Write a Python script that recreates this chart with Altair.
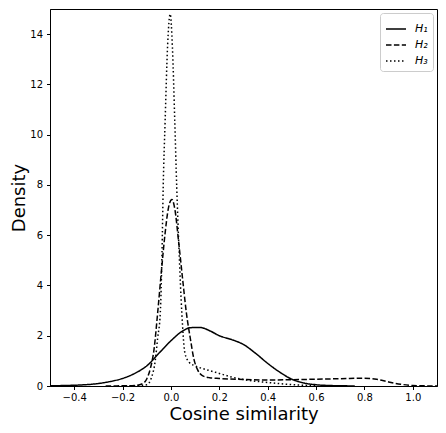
import altair as alt
import pandas as pd

series_names = ["H\u2081", "H\u2082", "H\u2083"]

h1_x = [-0.5, -0.4, -0.3, -0.25, -0.2, -0.15, -0.1, -0.05, 0.0, 0.05, 0.08, 0.12, 0.16, 0.2, 0.25,
        0.3, 0.35, 0.4, 0.45, 0.5, 0.55, 0.6, 0.65, 0.7, 0.76]
h1_y = [0.01, 0.03, 0.1, 0.18, 0.3, 0.5, 0.8, 1.3, 1.8, 2.2, 2.32, 2.33, 2.2, 2.0, 1.85,
        1.65, 1.3, 0.9, 0.55, 0.27, 0.12, 0.05, 0.02, 0.01, 0.0]

h2_x = [-0.27, -0.2, -0.15, -0.12, -0.1, -0.085, -0.07, -0.055, -0.04, -0.025, -0.01, 0.004, 0.015,
        0.034, 0.05, 0.064, 0.08, 0.095, 0.11, 0.13, 0.16, 0.2, 0.3, 0.4, 0.5, 0.6, 0.7, 0.8,
        0.85, 0.9, 0.95, 1.0, 1.05, 1.1]
h2_y = [0.0, 0.005, 0.02, 0.08, 0.28, 0.7, 1.45, 2.9, 4.5, 6.0, 7.1, 7.42, 7.1,
        5.54, 4.1, 2.9, 1.9, 1.07, 0.65, 0.41, 0.33, 0.3, 0.26, 0.24, 0.25, 0.27, 0.29, 0.31,
        0.27, 0.16, 0.07, 0.02, 0.005, 0.0]

h3_x = [-0.22, -0.15, -0.1, -0.08, -0.065, -0.055, -0.044, -0.037, -0.032, -0.024, -0.014, -0.003,
        0.006, 0.016, 0.024, 0.034, 0.045, 0.058, 0.075, 0.095, 0.116, 0.15, 0.2, 0.25, 0.31,
        0.36, 0.42, 0.51, 0.6]
h3_y = [0.0, 0.005, 0.05, 0.35, 1.0, 1.9, 2.91, 5.28, 7.9, 10.55, 13.5, 14.8,
        13.5, 10.5, 7.9, 5.28, 2.91, 1.3, 0.95, 0.82, 0.74, 0.64, 0.5, 0.36, 0.24,
        0.18, 0.12, 0.05, 0.01]

x_ticks = [-0.4, -0.2, 0.0, 0.2, 0.4, 0.6, 0.8, 1.0]
y_ticks = [0, 2, 4, 6, 8, 10, 12, 14]

rows = []
for name, xs, ys in zip(series_names, [h1_x, h2_x, h3_x], [h1_y, h2_y, h3_y]):
    for i, (a, b) in enumerate(zip(xs, ys)):
        rows.append({"series": name, "x": a, "y": b, "order": i})
df = pd.DataFrame(rows)

font = "DejaVu Sans"

chart = alt.Chart(df).mark_line(
    color="black", strokeWidth=1.5, interpolate="monotone", clip=True
).encode(
    x=alt.X("x:Q", scale=alt.Scale(domain=[-0.5, 1.1], nice=False, zero=False),
            axis=alt.Axis(title="Cosine similarity", values=x_ticks, format=".1f",
                          grid=False, titleFontSize=18, titleFontWeight="normal",
                          labelFontSize=10, tickSize=3.5, labelPadding=3, titlePadding=3,
                          domainColor="black", tickColor="black", labelColor="black",
                          titleColor="black", labelFont=font, titleFont=font)),
    y=alt.Y("y:Q", scale=alt.Scale(domain=[0, 15], nice=False),
            axis=alt.Axis(title="Density", values=y_ticks, format="d",
                          grid=False, titleFontSize=18, titleFontWeight="normal",
                          labelFontSize=10, tickSize=3.5, labelPadding=4, titlePadding=1,
                          domainColor="black", tickColor="black", labelColor="black",
                          titleColor="black", labelFont=font, titleFont=font)),
    strokeDash=alt.StrokeDash(
        "series:N",
        scale=alt.Scale(domain=series_names, range=[[1, 0], [5.5, 2.4], [1.5, 2.5]]),
        legend=alt.Legend(title=None, orient="top-right", offset=4,
                          labelFontSize=11, labelFontStyle="italic", labelFont=font,
                          labelColor="black", labelOffset=8,
                          symbolType="stroke", symbolStrokeWidth=1.5, symbolStrokeColor="black",
                          symbolSize=400, rowPadding=-1,
                          strokeColor="#cccccc", fillColor="white", padding=5,
                          cornerRadius=3)),
    order="order:Q",
    detail="series:N",
).properties(
    width=387, height=377,
    autosize=alt.AutoSizeParams(type="none"),
    padding={"left": 42, "top": 1, "right": 1, "bottom": 38},
).configure_view(stroke="black", strokeWidth=1)

chart.save("out.html", embed_options={"renderer": "svg", "actions": False})
